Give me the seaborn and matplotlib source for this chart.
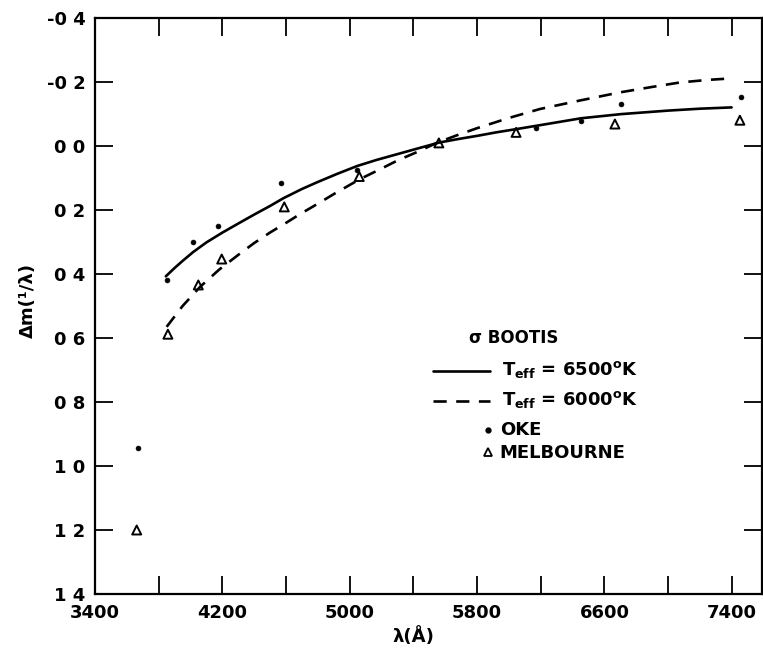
import matplotlib
matplotlib.use("Agg")
import matplotlib.pyplot as plt
import seaborn as sns
import pandas as pd

# ---------------- data ----------------
oke_wl = [3668, 3852, 4016, 4173, 4568, 5046, 6170, 6453, 6706, 7455]
oke_dm = [0.945, 0.42, 0.30, 0.25, 0.116, 0.075, -0.057, -0.078, -0.131, -0.152]

mel_wl = [3662, 3858, 4049, 4196, 4589, 5060, 5560, 6045, 6666, 7451]
mel_dm = [1.20, 0.588, 0.434, 0.353, 0.19, 0.095, -0.01, -0.043, -0.069, -0.081]

t6500_wl = [3845, 3900, 3950, 4017, 4100, 4198, 4300, 4400, 4500, 4583, 4700, 4800,
            4920, 5048, 5170, 5300, 5430, 5561, 5680, 5800, 5920, 6045, 6250, 6453,
            6704, 7000, 7200, 7399]
t6500_dm = [0.407, 0.381, 0.359, 0.331, 0.301, 0.271, 0.242, 0.214, 0.187, 0.163,
            0.134, 0.112, 0.087, 0.062, 0.043, 0.025, 0.007, -0.011, -0.022, -0.032,
            -0.043, -0.053, -0.070, -0.087, -0.100, -0.111, -0.117, -0.121]

t6000_wl = [3850, 3950, 4060, 4180, 4300, 4400, 4500, 4600, 4688, 4800, 4900, 5065,
            5180, 5300, 5430, 5555, 5680, 5800, 6000, 6195, 6450, 6698, 6900, 7075,
            7250, 7407]
t6000_dm = [0.565, 0.500, 0.440, 0.386, 0.340, 0.303, 0.270, 0.240, 0.2125, 0.180,
            0.150, 0.103, 0.075, 0.045, 0.017, -0.012, -0.035, -0.056, -0.088, -0.116,
            -0.143, -0.168, -0.185, -0.199, -0.207, -0.212]

xtick_vals = [3400, 3800, 4200, 4600, 5000, 5400, 5800, 6200, 6600, 7000, 7400]
xtick_labels = ["3400", "", "4200", "", "5000", "", "5800", "", "6600", "", "7400"]
ytick_vals = [-0.4, -0.2, 0.0, 0.2, 0.4, 0.6, 0.8, 1.0, 1.2, 1.4]
ytick_labels = ["-0 4", "-0 2", "0 0", "0 2", "0 4", "0 6", "0 8", "1 0", "1 2", "1 4"]

legend_title = "\u03c3 BOOTIS"
label_6500 = r"T$_{\mathbf{eff}}$ = 6500$^{\mathbf{o}}$K"
label_6000 = r"T$_{\mathbf{eff}}$ = 6000$^{\mathbf{o}}$K"
label_oke = "OKE"
label_mel = "MELBOURNE"

# ---------------- style ----------------
sns.set_style("ticks")
plt.rcParams["font.family"] = ["DejaVu Sans"]
plt.rcParams["font.weight"] = "bold"
plt.rcParams["mathtext.default"] = "bf"
plt.rcParams["text.color"] = "black"
plt.rcParams["axes.labelcolor"] = "black"

fig = plt.figure(figsize=(7.63, 6.53), dpi=100)
ax = fig.add_axes([0.1245, 0.0904, 0.8742, 0.8818])

df65 = pd.DataFrame({"wl": t6500_wl, "dm": t6500_dm})
df60 = pd.DataFrame({"wl": t6000_wl, "dm": t6000_dm})

sns.lineplot(data=df65, x="wl", y="dm", ax=ax, color="black", lw=1.9,
             sort=False, estimator=None)
sns.lineplot(data=df60, x="wl", y="dm", ax=ax, color="black", lw=1.9,
             sort=False, estimator=None)
ax.lines[-1].set_dashes([5, 3.6])

sns.scatterplot(x=oke_wl, y=oke_dm, ax=ax, color="black", marker="o", s=12,
                edgecolor="black", linewidth=0.5, zorder=3)
sns.scatterplot(x=mel_wl, y=mel_dm, ax=ax, color="black", marker="^", s=42,
                linewidth=1.4, zorder=3)
ax.collections[-1].set_facecolor("none")
ax.collections[-1].set_edgecolor("black")

ax.set_xlim(3400, 7590)
ax.set_ylim(1.4, -0.4)
ax.set_xticks(xtick_vals)
ax.set_xticklabels(xtick_labels)
ax.set_yticks(ytick_vals)
ax.set_yticklabels(ytick_labels)
ax.tick_params(direction="in", length=13, width=1.3, top=True, right=True,
               labelsize=13, pad=7, colors="black")
for sp in ax.spines.values():
    sp.set_linewidth(1.6)
    sp.set_color("black")

ax.set_xlabel("\u03bb(\u00c5)", fontsize=13, fontweight="bold", color="black")
ax.set_ylabel("\u0394m(\u00b9/\u03bb)", fontsize=13, fontweight="bold", color="black")
ax.xaxis.set_label_coords(0.477, -0.057)
ax.yaxis.set_label_coords(-0.087, 0.509)

# ---------------- legend (drawn in axes fraction) ----------------
tr = ax.transAxes
ax.text(0.561, 0.444, legend_title, transform=tr, fontsize=12, va="center", ha="left")
ax.plot([0.507, 0.592], [0.387, 0.387], transform=tr, color="black", lw=1.9)
ax.text(0.610, 0.390, label_6500, transform=tr, fontsize=13, va="center", ha="left")
l2, = ax.plot([0.507, 0.592], [0.335, 0.335], transform=tr, color="black", lw=1.9)
l2.set_dashes([5, 3.6])
ax.text(0.610, 0.338, label_6000, transform=tr, fontsize=13, va="center", ha="left")
ax.plot([0.589], [0.285], transform=tr, marker="o", ms=3.5, color="black", ls="none")
ax.text(0.607, 0.285, label_oke, transform=tr, fontsize=13, va="center", ha="left")
ax.plot([0.589], [0.247], transform=tr, marker="^", ms=6, mfc="none", mec="black",
        mew=1.3, ls="none")
ax.text(0.607, 0.245, label_mel, transform=tr, fontsize=13, va="center", ha="left")

fig.savefig("out.png", dpi=100, facecolor="white")
